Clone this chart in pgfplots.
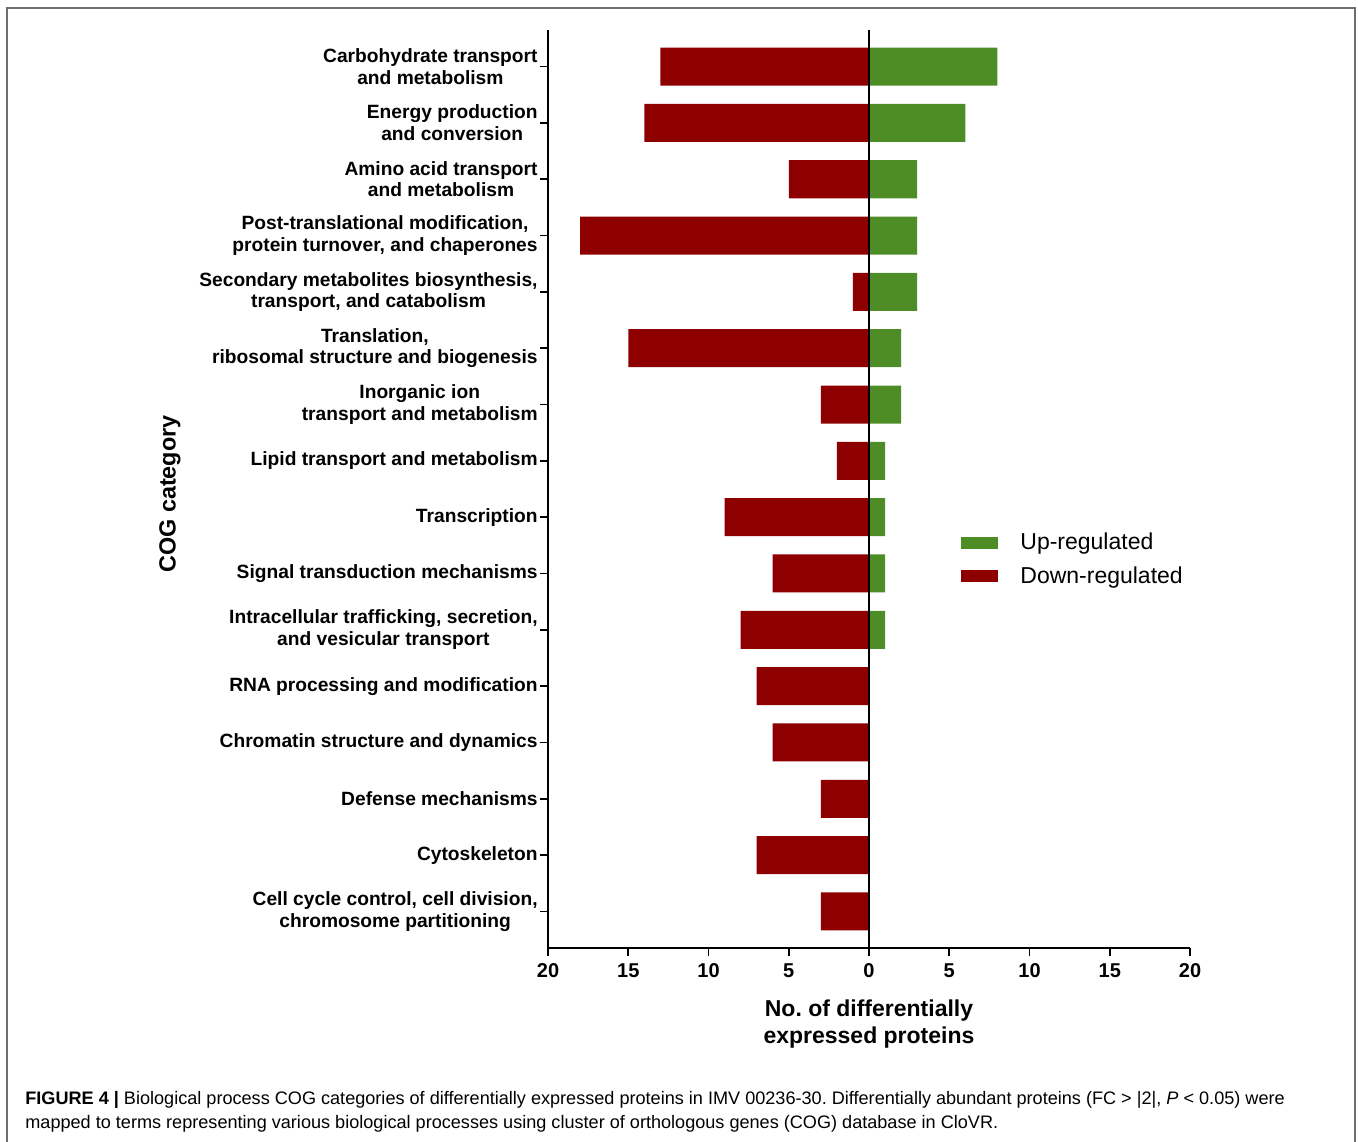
\documentclass[border=0pt]{standalone}
\usepackage{pgfplots}
\pgfplotsset{compat=1.18}
\usepackage{fontspec}
\setmainfont{Liberation Sans}
\definecolor{upg}{RGB}{78,140,38}
\definecolor{downr}{RGB}{142,0,0}
\definecolor{framec}{RGB}{110,110,110}
\frenchspacing

\begin{document}
\begin{tikzpicture}
\path[use as bounding box] (0,0) rectangle (679pt,570.5pt);
\begin{scope}[shift={(0pt,570.5pt)},x=0.5pt,y=-0.5pt]
 \draw[framec, line width=1pt] (7,1145) -- (7,8) -- (1355,8) -- (1355,1145);
 \node[anchor=base west, inner sep=0pt, font=\fontsize{9.05}{11}\selectfont] at (25,1104)
   {\textbf{FIGURE 4 |} Biological process COG categories of differentially expressed proteins in IMV 00236-30. Differentially abundant proteins (FC > |2|, \textit{P} < 0.05) were};
 \node[anchor=base west, inner sep=0pt, font=\fontsize{9.05}{11}\selectfont] at (25,1128)
   {mapped to terms representing various biological processes using cluster of orthologous genes (COG) database in CloVR.};
\end{scope}

\begin{axis}[
  at={(274pt,96.5pt)}, anchor=south west,
  scale only axis, width=321pt, height=459pt,
  xmin=-20, xmax=20, ymin=-0.65, ymax=15.65,
  axis x line=bottom, axis y line=left,
  axis line style={-, line width=0.8pt, black},
  tick style={line width=0.8pt, black},
  major tick length=4pt, tick align=outside,
  xtick={-20,-15,...,20},
  xticklabels={\textbf{20},\textbf{15},\textbf{10},\textbf{5},\textbf{0},\textbf{5},\textbf{10},\textbf{15},\textbf{20}},
  xticklabel style={font=\fontsize{10}{12}\selectfont\bfseries, inner sep=1pt, yshift=-2.5pt},
  ytick={0,...,15},
  yticklabels={
    {Cell cycle control, cell division,\\chromosome partitioning},
    {Cytoskeleton},
    {Defense mechanisms},
    {Chromatin structure and dynamics},
    {RNA processing and modification},
    {Intracellular trafficking, secretion,\\and vesicular transport},
    {Signal transduction mechanisms},
    {Transcription},
    {Lipid transport and metabolism},
    {Inorganic ion\\transport and metabolism},
    {Translation,\\ribosomal structure and biogenesis},
    {Secondary metabolites biosynthesis,\\transport, and catabolism},
    {Post-translational modification,\\protein turnover, and chaperones},
    {Amino acid transport\\and metabolism},
    {Energy production\\and conversion},
    {Carbohydrate transport\\and metabolism}},
  yticklabel style={font=\fontsize{9.6}{10.8}\selectfont\bfseries, align=center, inner xsep=1pt},
  xlabel={No.\ of differentially\\expressed proteins},
  xlabel style={font=\fontsize{11.5}{13.5}\selectfont\bfseries, align=center,
    at={(axis description cs:0.5,-0.083)}, anchor=center},
  ylabel={COG category},
  every axis y label/.style={at={(axis description cs:-0.589,0.4946)}, rotate=90, anchor=center,
    font=\fontsize{11.7}{14}\selectfont\bfseries},
  xbar, bar shift=0pt, bar width=0.675,
  legend style={at={(axis description cs:0.6433,0.4232)}, anchor=west, draw=none, fill=none,
    inner sep=0pt, row sep=3pt, font=\fontsize{11.5}{13.5}\selectfont,
    nodes={inner xsep=0pt}, column sep=11pt},
  legend cell align=left,
  legend image code/.code={\fill[#1] (0pt,-3pt) rectangle (18.5pt,3pt);},
]
\addplot[fill=upg, draw=none] coordinates {
  (8,15) (6,14) (3,13) (3,12) (3,11) (2,10) (2,9) (1,8) (1,7) (1,6) (1,5)};
\addlegendentry{Up-regulated}
\addplot[fill=downr, draw=none] coordinates {
  (-13,15) (-14,14) (-5,13) (-18,12) (-1,11) (-15,10) (-3,9) (-2,8) (-9,7) (-6,6)
  (-8,5) (-7,4) (-6,3) (-3,2) (-7,1) (-3,0)};
\addlegendentry{Down-regulated}
\draw[black, line width=0.8pt] (axis cs:0,-0.65) -- (axis cs:0,15.65);
\end{axis}
\end{tikzpicture}
\end{document}
